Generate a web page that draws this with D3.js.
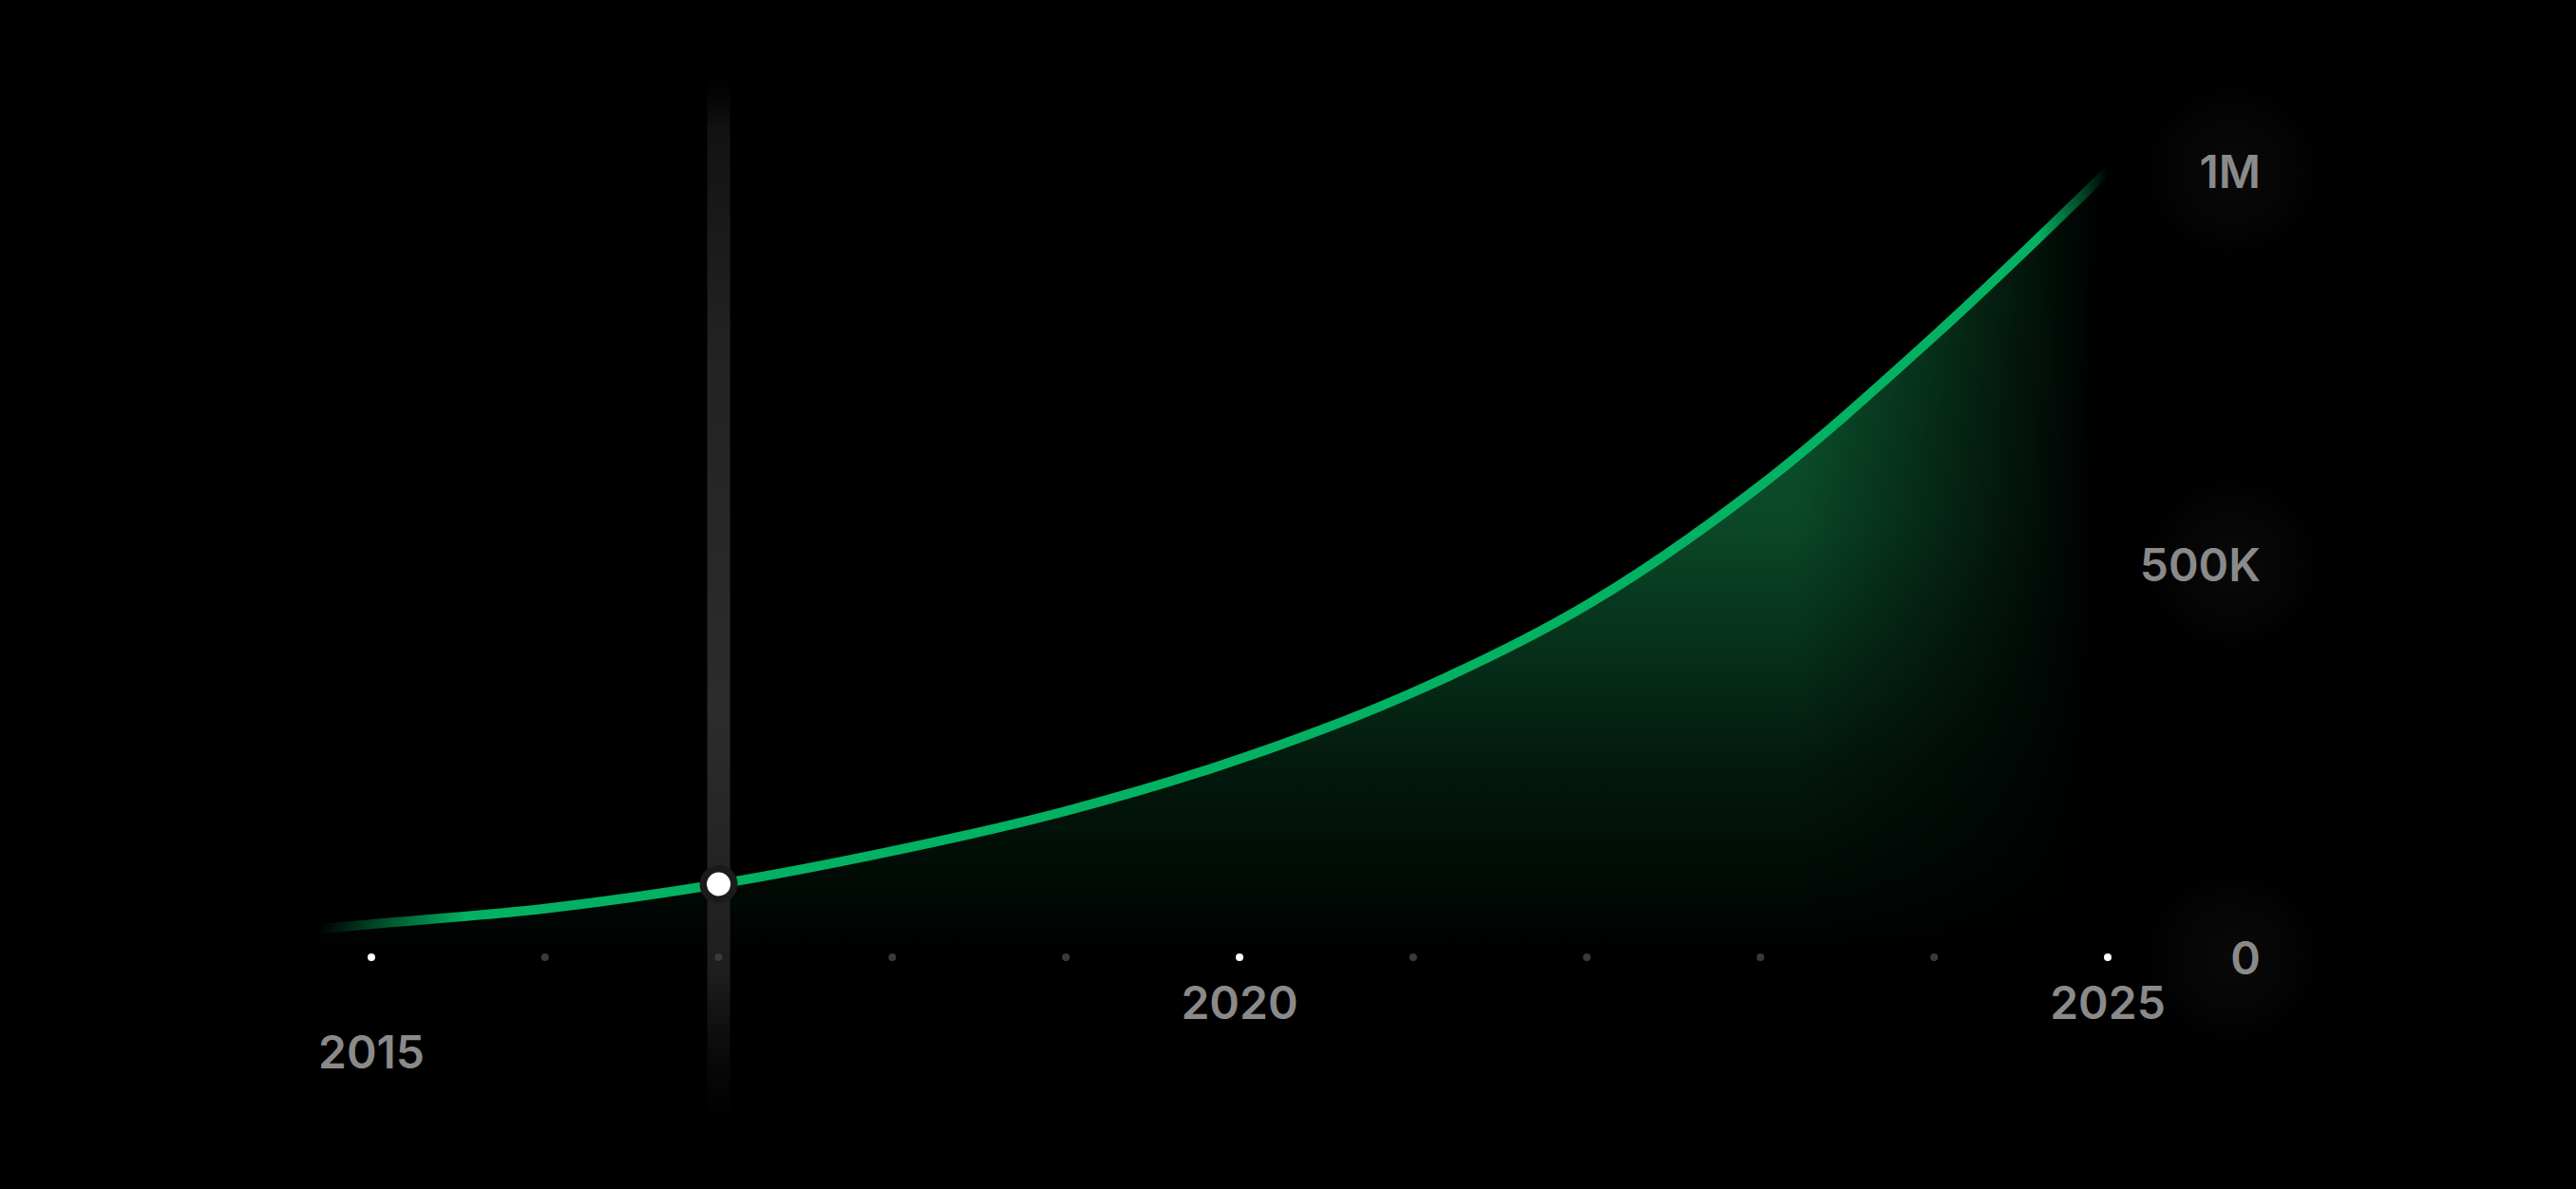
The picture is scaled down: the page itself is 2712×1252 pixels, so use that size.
<!DOCTYPE html>
<html>
<head>
<meta charset="utf-8">
<script src="https://cdn.jsdelivr.net/npm/d3@7"></script>
<style>
  html, body { margin: 0; padding: 0; background: #000; overflow: hidden; }
  text { font-family: Inter, "Noto Sans", sans-serif; font-weight: 600; }
</style>
</head>
<body>
<div id="chart"></div>
<script>
const width = 2712;
const height = 1252;

// data ==============================================================
const years = [2014.7, 2015, 2016, 2017, 2018, 2019, 2020, 2021, 2022, 2023, 2024, 2025];
const users = [36000, 42000, 62000, 93000, 135000, 186000, 252000, 337000, 448000, 600000, 790000, 1000000];
const tickYears = [2015, 2016, 2017, 2018, 2019, 2020, 2021, 2022, 2023, 2024, 2025];
const labelYears = [2015, 2020, 2025];
const yTicks = [0, 500000, 1000000];
const yTickLabels = ['0', '500K', '1M'];
const selectedYear = 2017;
// ===================================================================

const data = years.map((y, i) => ({ year: y, value: users[i] }));

const x = d3.scaleLinear().domain([2015, 2025]).range([391, 2219]);
const y = d3.scaleLinear().domain([0, 1000000]).range([1008, 180]);

const svg = d3.select('#chart').append('svg').attr('width', width).attr('height', height);
svg.append('rect').attr('width', width).attr('height', height).attr('fill', '#000');

const defs = svg.append('defs');

// area fill: green at the top, black at the baseline
const areaGrad = defs.append('linearGradient')
	.attr('id', 'areaGrad').attr('gradientUnits', 'userSpaceOnUse')
	.attr('x1', 0).attr('x2', 0).attr('y1', y(1000000)).attr('y2', y(0));
[[0, '#0d6234'], [0.45, '#0a4728'], [0.75, '#031a0e'], [1, '#000000']].forEach(([o, c]) =>
	areaGrad.append('stop').attr('offset', o).attr('stop-color', c));

// right side fade of the area
const areaFade = defs.append('linearGradient')
	.attr('id', 'areaFade').attr('gradientUnits', 'userSpaceOnUse')
	.attr('x1', x(2023.2)).attr('x2', x(2024.95)).attr('y1', 0).attr('y2', 0);
areaFade.append('stop').attr('offset', 0).attr('stop-color', '#fff');
areaFade.append('stop').attr('offset', 1).attr('stop-color', '#000');
defs.append('mask').attr('id', 'areaMask').attr('maskUnits', 'userSpaceOnUse')
	.attr('x', 0).attr('y', 0).attr('width', width).attr('height', height)
	.append('rect').attr('width', width).attr('height', height).attr('fill', 'url(#areaFade)');

// line stroke fading at both ends
const lineGrad = defs.append('linearGradient')
	.attr('id', 'lineGrad').attr('gradientUnits', 'userSpaceOnUse')
	.attr('x1', x(2014.7)).attr('x2', x(2025)).attr('y1', 0).attr('y2', 0);
const x0 = x(2014.7), span = x(2025) - x(2014.7);
[[x0, 0], [x(2015.55), 1], [x(2024.6), 1], [x(2025), 0]].forEach(([px, op]) =>
	lineGrad.append('stop').attr('offset', (px - x0) / span)
		.attr('stop-color', '#02b262').attr('stop-opacity', op));

// vertical selection bar
const barGrad = defs.append('linearGradient')
	.attr('id', 'barGrad').attr('x1', 0).attr('x2', 0).attr('y1', 0).attr('y2', 1);
[[0, '#0a0a0a', 0], [0.05, '#121212', 1], [0.25, '#222222', 1], [0.6, '#2c2c2c', 1], [0.85, '#1e1e1e', 1], [1, '#0a0a0a', 0]]
	.forEach(([o, c, op]) => barGrad.append('stop').attr('offset', o).attr('stop-color', c).attr('stop-opacity', op));

// faint glow behind labels
const glow = defs.append('radialGradient').attr('id', 'glow');
glow.append('stop').attr('offset', 0).attr('stop-color', '#090909').attr('stop-opacity', 1);
glow.append('stop').attr('offset', 0.6).attr('stop-color', '#050505').attr('stop-opacity', 0.8);
glow.append('stop').attr('offset', 1).attr('stop-color', '#000').attr('stop-opacity', 0);

// Area + line ========================================================
const curve = d3.curveCatmullRom.alpha(0.5);

const area = d3.area()
	.x((d) => x(d.year))
	.y0(y(0))
	.y1((d) => y(d.value))
	.curve(curve);

const line = d3.line()
	.x((d) => x(d.year))
	.y((d) => y(d.value))
	.curve(curve);

svg.append('path').datum(data)
	.attr('d', area)
	.attr('fill', 'url(#areaGrad)')
	.attr('mask', 'url(#areaMask)');

// Selection bar
svg.append('rect')
	.attr('x', x(selectedYear) - 12)
	.attr('y', 80)
	.attr('width', 24)
	.attr('height', 1112)
	.attr('fill', 'url(#barGrad)');

svg.append('path').datum(data)
	.attr('d', line)
	.attr('fill', 'none')
	.attr('stroke', 'url(#lineGrad)')
	.attr('stroke-width', 10)
	.attr('stroke-linecap', 'round');

// Tick dots ===========================================================
svg.append('g').selectAll('circle')
	.data(tickYears)
	.join('circle')
	.attr('cx', (d) => x(d))
	.attr('cy', y(0))
	.attr('r', 4)
	.attr('fill', (d) => (labelYears.includes(d) ? '#ffffff' : '#3a3a3a'));

// Label glows
const glowG = svg.append('g');
glowG.selectAll('circle.yg')
	.data(yTicks)
	.join('circle')
	.attr('class', 'yg')
	.attr('cx', 2350)
	.attr('cy', (d) => y(d))
	.attr('r', 110)
	.attr('fill', 'url(#glow)');

// X labels
svg.append('g').selectAll('text')
	.data(labelYears)
	.join('text')
	.attr('x', (d) => x(d))
	.attr('y', (d, i) => (i === 0 ? 1125 : 1073))
	.attr('text-anchor', 'middle')
	.attr('font-size', 48)
	.attr('fill', '#8a8a8a')
	.text((d) => d);

// Y labels via axis
const yAxis = d3.axisRight(y)
	.tickValues(yTicks)
	.tickSize(0)
	.tickFormat((d, i) => yTickLabels[i]);

const yg = svg.append('g').attr('transform', 'translate(2380,0)').call(yAxis);
yg.select('.domain').remove();
yg.selectAll('text')
	.attr('x', 0)
	.attr('dy', '0.36em')
	.attr('text-anchor', 'end')
	.attr('font-size', 48)
	.attr('font-family', 'Inter, "Noto Sans", sans-serif')
	.attr('font-weight', 600)
	.attr('fill', '#8a8a8a');

// Marker ================================================================
const sel = data.find((d) => d.year === selectedYear);
svg.append('circle')
	.attr('cx', x(sel.year))
	.attr('cy', y(sel.value))
	.attr('r', 20)
	.attr('fill', '#1b1b1b');
svg.append('circle')
	.attr('cx', x(sel.year))
	.attr('cy', y(sel.value))
	.attr('r', 12.5)
	.attr('fill', '#ffffff');
</script>
</body>
</html>
